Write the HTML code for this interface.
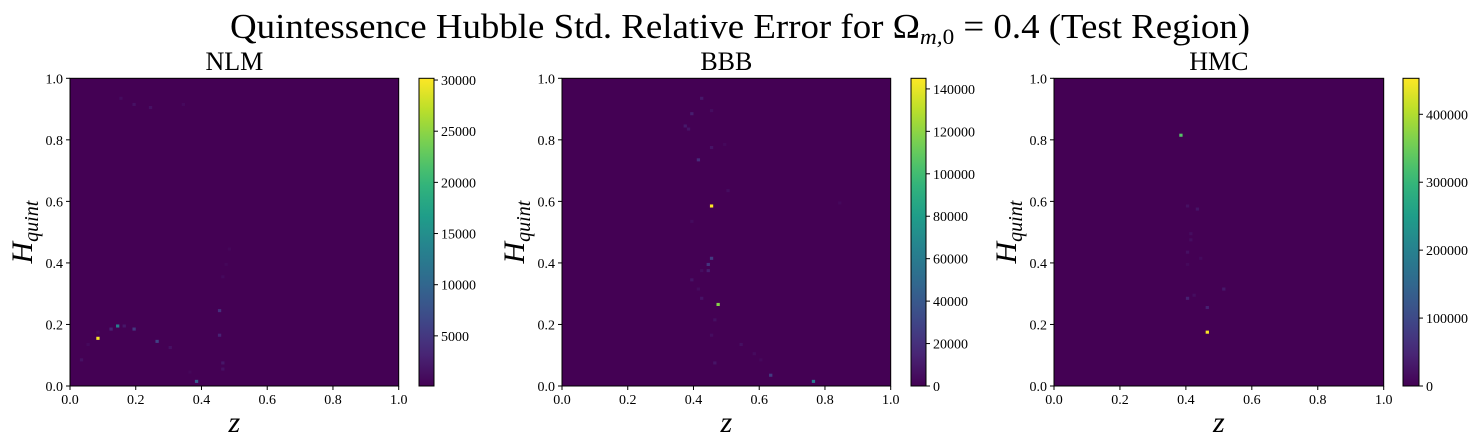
<!DOCTYPE html>
<html><head><meta charset="utf-8"><style>
html,body{margin:0;padding:0;background:#fff;}
svg{display:block;font-family:"Liberation Serif","DejaVu Serif",serif;}
</style></head><body>
<svg id="fig" width="1479" height="448" viewBox="0 0 1479 448" xmlns="http://www.w3.org/2000/svg">
<text x="740" y="38" font-size="35" text-anchor="middle" textLength="1020" lengthAdjust="spacingAndGlyphs">Quintessence Hubble Std. Relative Error for <tspan font-style="normal">Ω</tspan><tspan font-size="22" dy="6" font-style="italic">m,</tspan><tspan font-size="22">0</tspan><tspan dy="-6"> = 0.4 (Test Region)</tspan></text>
</svg>
<script>
// ---- data ----
const panelTitles = ["NLM", "BBB", "HMC"];
const xTicks = [0, 0.2, 0.4, 0.6, 0.8, 1.0];
const yTicks = [0, 0.2, 0.4, 0.6, 0.8, 1.0];
const cbRangeNLM = [100, 30170];
const cbRangeBBB = [0, 145000];
const cbRangeHMC = [0, 453000];
const cbTicksNLM = [5000, 10000, 15000, 20000, 25000, 30000];
const cbTicksBBB = [0, 20000, 40000, 60000, 80000, 100000, 120000, 140000];
const cbTicksHMC = [0, 100000, 200000, 300000, 400000];
// hot cells: z, H, value
const nlmZ = [0.084,0.144,0.195,0.125,0.165,0.266,0.384,0.454,0.454,0.464,0.464,0.306,0.034,0.195,0.24,0.155,0.084,0.464,0.475,0.485,0.345,0.053,0.365];
const nlmH = [0.155,0.197,0.186,0.186,0.197,0.145,0.015,0.247,0.165,0.077,0.053,0.127,0.087,0.915,0.906,0.936,0.174,0.355,0.397,0.447,0.915,0.135,0.044];
const nlmV = [30000,13000,5000,3000,2000,6000,9000,4000,3000,2000,1500,1500,1500,1500,1500,1000,1000,800,600,600,800,800,600];
const bbbZ = [0.454,0.476,0.765,0.636,0.454,0.445,0.445,0.415,0.395,0.424,0.375,0.384,0.454,0.395,0.424,0.465,0.545,0.465,0.504,0.845,0.454,0.454,0.395,0.586,0.604,0.424,0.415,0.494];
const bbbH = [0.587,0.265,0.015,0.036,0.415,0.395,0.376,0.736,0.887,0.936,0.847,0.837,0.776,0.347,0.286,0.077,0.135,0.217,0.636,0.597,0.895,0.165,0.538,0.106,0.087,0.376,0.317,0.786];
const bbbV = [145000,118000,60000,25000,25000,22000,12000,18000,12000,10000,10000,8000,8000,8000,8000,8000,6000,6000,5000,3000,5000,5000,4000,4000,3000,5000,4000,3000];
const hmcZ = [0.464,0.383,0.464,0.404,0.514,0.434,0.404,0.414,0.414,0.404,0.444,0.423,0.404];
const hmcH = [0.174,0.816,0.254,0.284,0.317,0.577,0.587,0.496,0.477,0.436,0.415,0.293,0.397];
const hmcV = [450000,330000,40000,40000,30000,25000,20000,15000,15000,20000,12000,15000,10000];

const NS = "http://www.w3.org/2000/svg";
const svg = document.getElementById("fig");
const vir = [[68,1,84],[72,40,120],[62,74,137],[49,104,142],[38,130,142],[31,158,137],[53,183,121],[110,206,88],[181,222,43],[253,231,37]];
function viridis(t){t=Math.max(0,Math.min(1,t));const p=t*(vir.length-1),i=Math.min(Math.floor(p),vir.length-2),f=p-i;
 const c=vir[i].map((a,k)=>Math.round(a+(vir[i+1][k]-a)*f));return `rgb(${c[0]},${c[1]},${c[2]})`;}
function mk(tag,attrs,parent){const e=document.createElementNS(NS,tag);for(const k in attrs)e.setAttribute(k,attrs[k]);(parent||svg).appendChild(e);return e;}
function fmt(v){return (Math.round(v*10)/10).toFixed(1);}

const panels = [
 {x0:70,x1:398.7,cb0:419,cb1:434,Z:nlmZ,H:nlmH,V:nlmV,rng:cbRangeNLM,ticks:cbTicksNLM},
 {x0:562,x1:890.7,cb0:911,cb1:926,Z:bbbZ,H:bbbH,V:bbbV,rng:cbRangeBBB,ticks:cbTicksBBB},
 {x0:1054,x1:1383.7,cb0:1403,cb1:1419,Z:hmcZ,H:hmcH,V:hmcV,rng:cbRangeHMC,ticks:cbTicksHMC}
];
const y0=78.3, y1=386;
const defs = mk("defs",{});
const lg = mk("linearGradient",{id:"vgrad",x1:"0",y1:"1",x2:"0",y2:"0"},defs);
for(let i=0;i<=20;i++){mk("stop",{offset:(i/20),"stop-color":viridis(i/20)},lg);}

panels.forEach((p,pi)=>{
 const g = mk("g",{});
 
 
 const sx = v=>p.x0+v*(p.x1-p.x0);
 const sy = v=>y1-v*(y1-y0);
 const sc = v=>(v-p.rng[0])/(p.rng[1]-p.rng[0]);
 const bg = mk("rect",{x:p.x0,y:y0,width:p.x1-p.x0,height:y1-y0,fill:viridis(0)},g);
 
 
 for(let i=0;i<p.Z.length;i++){
  const cz=Math.floor(p.Z[i]*100)/100, ch=Math.floor(p.H[i]*100)/100;
  const r = mk("rect",{x:sx(cz),y:sy(ch+0.01),width:sx(0.01)-sx(0),height:sy(0)-sy(0.01),fill:viridis(sc(p.V[i]))},g);
  
  
 }
 const fr = mk("rect",{x:p.x0,y:y0,width:p.x1-p.x0,height:y1-y0,fill:"none",stroke:"#000","stroke-width":1},g);
 
 
 xTicks.forEach(t=>{
  mk("line",{x1:sx(t),x2:sx(t),y1:y1,y2:y1+4,stroke:"#000"},g);
  const tx = mk("text",{x:sx(t),y:y1+18,"font-size":14,"text-anchor":"middle"},g);
  tx.textContent=fmt(t);
  
  
 });
 yTicks.forEach(t=>{
  mk("line",{x1:p.x0-4,x2:p.x0,y1:sy(t),y2:sy(t),stroke:"#000"},g);
  const tx = mk("text",{x:p.x0-7,y:sy(t)+5,"font-size":14,"text-anchor":"end"},g);
  tx.textContent=fmt(t);
  
  
 });
 const tt = mk("text",{x:(p.x0+p.x1)/2,y:70,"font-size":26,"text-anchor":"middle"},g);
 tt.textContent=panelTitles[pi];
 
 
 const xl = mk("text",{x:(p.x0+p.x1)/2,y:432,"font-size":30,"font-style":"italic","text-anchor":"middle"},g);
 xl.textContent="z";
 
 
 const yl = mk("text",{transform:`translate(${p.x0-38},${(y0+y1)/2}) rotate(-90)`,"font-size":30,"font-style":"italic","text-anchor":"middle"},g);
 yl.innerHTML='H<tspan font-size="20" dy="6">quint</tspan>';
 
 
 const cb = mk("rect",{x:p.cb0,y:y0,width:p.cb1-p.cb0,height:y1-y0,fill:"url(#vgrad)",stroke:"#000","stroke-width":1},g);
 
 
 p.ticks.forEach(t=>{
  const yy = y1-sc(t)*(y1-y0);
  mk("line",{x1:p.cb1,x2:p.cb1+4,y1:yy,y2:yy,stroke:"#000"},g);
  const tx = mk("text",{x:p.cb1+7,y:yy+5,"font-size":14},g);
  tx.textContent=String(t);
  
  
 });
});
</script>
</body></html>
